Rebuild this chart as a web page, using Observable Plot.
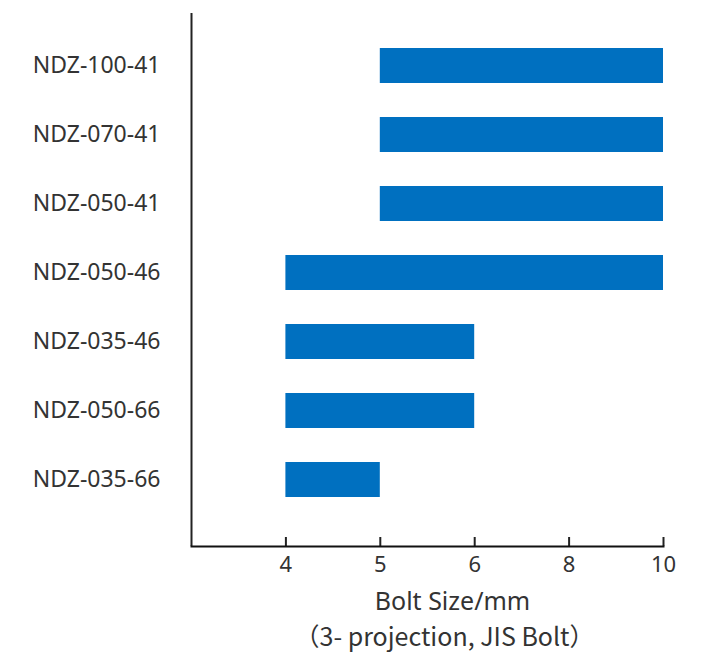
<!DOCTYPE html>
<html>
<head>
<meta charset="utf-8">
<script src="https://cdn.jsdelivr.net/npm/d3@7"></script>
<script src="https://cdn.jsdelivr.net/npm/@observablehq/plot@0.6"></script>
<style>
  html, body { margin: 0; padding: 0; background: #fff; }
</style>
</head>
<body>
<div id="chart"></div>
<script>
// Data
const models = ["NDZ-100-41", "NDZ-070-41", "NDZ-050-41", "NDZ-050-46", "NDZ-035-46", "NDZ-050-66", "NDZ-035-66"];
const minSize = ["5", "5", "5", "4", "4", "4", "4"];
const maxSize = ["10", "10", "10", "10", "6", "6", "5"];
const sizeTicks = ["4", "5", "6", "8", "10"];
const xLabel = "Bolt Size/mm";
const xSubLabel = "（3- projection, JIS Bolt）";

// Bolt sizes are shown on an evenly spaced ordinal axis; position = index + 1
const pos = s => sizeTicks.indexOf(s) + 1;
const rows = models.map((m, i) => ({model: m, x1: pos(minSize[i]), x2: pos(maxSize[i])}));
const tickPositions = sizeTicks.map((s, i) => i + 1);

const chart = Plot.plot({
  width: 710,
  height: 652,
  marginLeft: 191,
  marginRight: 47,
  marginTop: 13,
  marginBottom: 106,
  style: {fontFamily: "'Noto Sans', sans-serif", fontSize: "22px", color: "#333", background: "#fff"},
  x: {domain: [0, sizeTicks.length], axis: null},
  y: {domain: models, paddingInner: 0.5, paddingOuter: 0.575, align: 0.41, axis: null},
  marks: [
    Plot.barX(rows, {y: "model", x1: "x1", x2: "x2", fill: "#0070C0"}),
    Plot.axisY({tickSize: 0, tickPadding: 31, fontSize: 23, fill: "#333", label: null}),
    Plot.axisX(tickPositions, {tickSize: -9, tickPadding: 19, tickFormat: d => sizeTicks[d - 1], fontSize: 22, fill: "#333", stroke: "#222", strokeWidth: 2, label: null}),
    Plot.ruleX([0], {stroke: "#222", strokeWidth: 2}),
    Plot.frame({anchor: "bottom", stroke: "#111", strokeWidth: 2}),
    Plot.text([xLabel], {frameAnchor: "bottom", lineAnchor: "middle", dx: 25, dy: 55, fontSize: 25, fill: "#333"}),
    Plot.text([xSubLabel], {frameAnchor: "bottom", lineAnchor: "middle", dx: 17, dy: 91, fontSize: 25, fill: "#333", fontFamily: "'Noto Sans CJK JP', 'Noto Sans', sans-serif"})
  ]
});
document.getElementById("chart").appendChild(chart);
</script>
</body>
</html>
